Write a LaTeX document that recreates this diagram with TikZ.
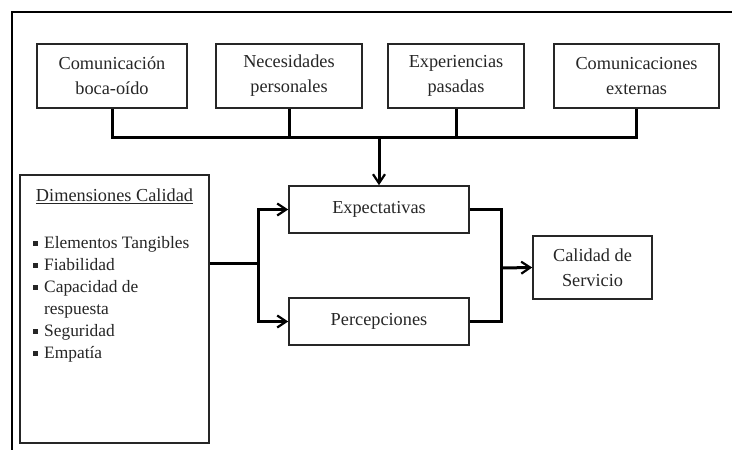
\documentclass[tikz,border=0pt]{standalone}
\usepackage{fontspec}
\setmainfont{Liberation Serif}
\usepackage{tikz}
\usetikzlibrary{arrows.meta,positioning}
\tikzstyle{every node}=[font=\fontsize{18.3}{25}\selectfont,text=black!85]
\tikzstyle{every path}=[line cap=butt,line join=miter]
\tikzset{
  block/.style={draw=black!85,line width=1.6pt,fill=white,align=center,inner sep=2pt},
  conn/.style={line width=3pt,black},
  arr/.style={conn,-{Straight Barb[length=9pt,width=12pt,line width=2.2pt]}},
  frame/.style={line width=2.6pt,black}
}
\newcommand{\sqbullet}{\makebox[11pt][l]{\raisebox{2.5pt}{\rule{5pt}{5pt}}}}

\begin{document}
\begin{tikzpicture}[x=1pt,y=-1pt]
\useasboundingbox (0,0) rectangle (732,450);
\draw[frame] (12,450) -- (12,12) -- (732,12);

% top row
\node[block,minimum width=150pt,minimum height=64pt] (com) at (112,76) {Comunicación\\boca-oído};
\node[block,minimum width=146pt,minimum height=64pt] (nec) at (289,76) {Necesidades\\personales};
\node[block,minimum width=136pt,minimum height=64pt] (pas) at (456,76) {Experiencias\\pasadas};
\node[block,minimum width=165pt,minimum height=64pt] (ext) at (636.5,76) {Comunicaciones\\externas};

% middle
\node[block,minimum width=180pt,minimum height=47pt] (expec) at (379,209.5) {Expectativas};
\node[block,minimum width=180pt,minimum height=47pt] (perc) at (379,321.5) {Percepciones};
\node[block,minimum width=119pt,minimum height=63pt] (cal) at (592.5,267.5) {Calidad de\\Servicio};

% dimensiones
\node[block,minimum width=189pt,minimum height=268pt] (dim) at (114.5,309) {};
\node (dimhead) at (114.5,196) {\underline{Dimensiones Calidad}};
\node[anchor=north west,align=left,inner sep=0pt,font=\fontsize{17.4}{22}\selectfont] (dimlist) at (33,236)
  {\sqbullet Elementos Tangibles\\ \sqbullet Fiabilidad\\ \sqbullet Capacidad de\\ \hspace*{11pt}respuesta\\ \sqbullet Seguridad\\ \sqbullet Empatía};

% connectors
\coordinate (bus) at (379,137);
\coordinate (split) at (258,263);
\coordinate (join) at (501,268);

\draw[conn] (com.south) |- (bus) -| (ext.south);
\draw[conn] (nec.south) -- (nec.south |- bus);
\draw[conn] (pas.south) -- (pas.south |- bus);
\draw[arr] (bus) -- (expec.north);

\draw[conn] (dim.east |- split) -- (split);
\draw[arr] (split) |- (expec.west);
\draw[arr] (split) |- (perc.west);

\draw[conn] (expec.east) -| (perc.east -| join) -- (perc.east);
\draw[arr] (join) -- (cal.west);
\end{tikzpicture}
\end{document}
